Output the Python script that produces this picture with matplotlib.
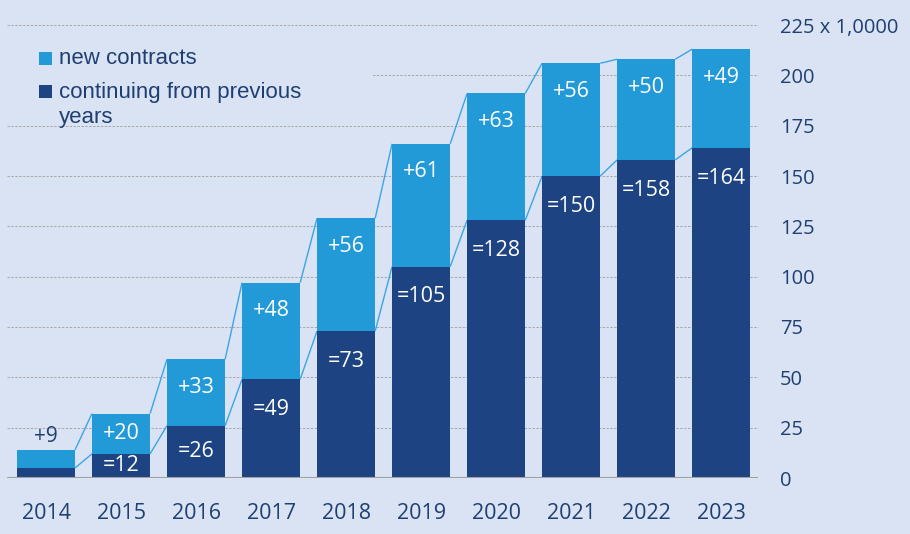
import numpy as np
import matplotlib as mp
import matplotlib.pyplot as plt

years = ['2014', '2015', '2016', '2017', '2018', '2019', '2020', '2021', '2022', '2023']
continuing = [5, 12, 26, 49, 73, 105, 128, 150, 158, 164]
new = [9, 20, 33, 48, 56, 61, 63, 56, 50, 49]
yticks = [0, 25, 50, 75, 100, 125, 150, 175, 200, 225]
ytick_labels = ['0', '25', '50', '75', '100', '125', '150', '175', '200', '225 x 1,0000']

bg = '#dae3f3'
dark = '#1d4382'
light = '#229ad8'
txt = '#1f3f73'
w = 0.775

fig = plt.figure(figsize=(9.1, 5.34), dpi=100, facecolor=bg)
ax = fig.add_axes([7/910, (534-478)/534, (758-7)/910, (478-25)/534])
ax.set_facecolor(bg)

x = np.arange(len(years))
cont = np.array(continuing)
tot = cont + np.array(new)

ax.bar(x, cont, w, color=dark, zorder=3)
ax.bar(x, new, w, bottom=cont, color=light, zorder=3)

# connector lines between bars
for i in range(len(years)-1):
    for arr in (cont, tot):
        ax.plot([x[i]+w/2, x[i+1]-w/2], [arr[i], arr[i+1]],
                color='#3aa5e6', lw=1.0, zorder=2, solid_capstyle='butt')

# labels
for i in range(len(years)):
    if i == 0:
        ax.text(x[i], tot[i]+1.5, '+%d' % new[i], ha='center', va='bottom',
                color=txt, fontsize=15, family='Open Sans', zorder=5)
    else:
        yl = max(tot[i]-14, cont[i]+new[i]/2)
        ax.text(x[i], yl, '+%d' % new[i], ha='center', va='center',
                color='white', fontsize=15.5, family='Open Sans', zorder=5)
        yd = max(cont[i]-15, cont[i]/2)
        ax.text(x[i], yd, '=%d' % cont[i], ha='center', va='center',
                color='white', fontsize=15.5, family='Open Sans', zorder=5)

ax.set_xlim(-0.52, 9.49)
ax.set_ylim(0, 225)
for s in ax.spines.values():
    s.set_visible(False)
ax.axhline(0, color='#a0a0a0', lw=1.5, zorder=4)
for v in yticks[1:]:
    ax.axhline(v, color='#a8a8a8', lw=0.7, ls=(0, (2.5, 1.5)), zorder=1, clip_on=False)

ax.yaxis.tick_right()
ax.set_yticks(yticks)
ax.set_yticklabels(ytick_labels)
for lab in ax.get_yticklabels():
    lab.set_horizontalalignment('left')
ax.tick_params(axis='y', length=0, pad=16, labelsize=14.5, labelcolor=txt)
ax.set_xticks(x)
ax.set_xticklabels(years)
ax.tick_params(axis='x', length=0, pad=18, labelsize=15.5, labelcolor=txt)
for lab in ax.get_xticklabels() + ax.get_yticklabels():
    lab.set_family('Open Sans')

# legend area (covers grid)
def fx(px):
    return px/910
def fy(py):
    return (534-py)/534
fig.add_artist(mp.patches.Rectangle((fx(7), fy(110)), fx(372)-fx(7), fy(40)-fy(110),
                                    transform=fig.transFigure, facecolor=bg, edgecolor='none', zorder=5))
fig.add_artist(mp.patches.Rectangle((fx(39), fy(65)), 13/910, 13/534,
                                    transform=fig.transFigure, facecolor=light, edgecolor='none', zorder=6))
fig.add_artist(mp.patches.Rectangle((fx(39), fy(98)), 13/910, 13/534,
                                    transform=fig.transFigure, facecolor=dark, edgecolor='none', zorder=6))
fig.text(fx(59), fy(59), 'new contracts', fontsize=16, family='Liberation Sans',
         color=txt, va='center', ha='left', zorder=7)
fig.text(fx(59), fy(105), 'continuing from previous\nyears', fontsize=16,
         family='Liberation Sans', color=txt, va='center', ha='left',
         linespacing=1.2, zorder=7)

plt.savefig('out.png', facecolor=bg, dpi=100)
